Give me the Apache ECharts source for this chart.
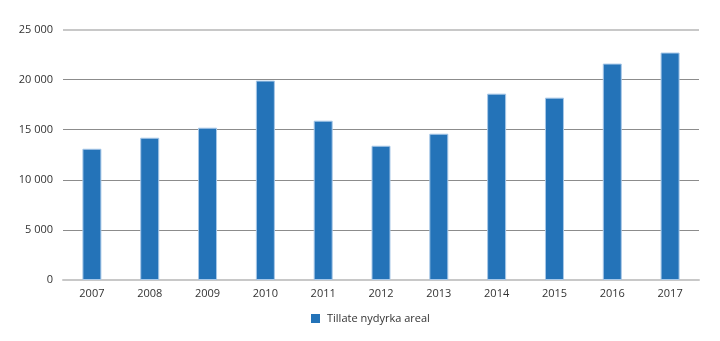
<!DOCTYPE html>
<html>
<head>
<meta charset="utf-8">
<script src="https://cdn.jsdelivr.net/npm/echarts@6/dist/echarts.min.js"></script>
<style>
  html, body { margin: 0; padding: 0; background: #fff; }
  #chart { width: 720px; height: 341px; }
</style>
</head>
<body>
<div id="chart"></div>
<script>
// Years on the category axis
const years = ['2007', '2008', '2009', '2010', '2011', '2012', '2013', '2014', '2015', '2016', '2017'];
// Approved new cultivated area per year
const area = [13100, 14200, 15200, 19900, 15900, 13400, 14600, 18600, 18200, 21600, 22700];
const seriesName = 'Tillate nydyrka areal';
// Value axis ticks
const yTicks = [0, 5000, 10000, 15000, 20000, 25000];

const fmt = v => String(v).replace(/\B(?=(\d{3})+(?!\d))/g, ' ');

const chart = echarts.init(document.getElementById('chart'), null, { renderer: 'canvas' });
chart.setOption({
  animation: false,
  textStyle: { fontFamily: 'Open Sans', color: '#333' },
  grid: { left: 63, right: 21, top: 29.5, bottom: 61, containLabel: false },
  legend: {
    data: [seriesName],
    bottom: 12,
    left: 306,
    itemWidth: 9,
    itemHeight: 9,
    itemGap: 6,
    icon: 'rect',
    itemStyle: { borderWidth: 0 },
    textStyle: { fontFamily: 'Open Sans', fontSize: 11, color: '#333', padding: [0, 0, 0, 2] }
  },
  xAxis: {
    type: 'category',
    data: years,
    axisLine: { lineStyle: { color: '#c8c8c8', width: 2 } },
    axisTick: { show: false },
    axisLabel: { fontSize: 11, color: '#333', margin: 8 }
  },
  yAxis: {
    type: 'value',
    min: yTicks[0],
    max: yTicks[yTicks.length - 1],
    interval: yTicks[1] - yTicks[0],
    axisLine: { show: false },
    axisTick: { show: false },
    axisLabel: { fontSize: 11, color: '#333', margin: 10, formatter: fmt },
    splitLine: {
      lineStyle: {
        color: ['#c8c8c8', '#8c8c8c', '#8c8c8c', '#8c8c8c', '#8c8c8c', '#c8c8c8'],
        width: 1
      }
    }
  },
  series: [{
    name: seriesName,
    type: 'bar',
    data: area,
    barWidth: 19,
    itemStyle: { color: '#2473b8', borderColor: '#a8c8e8', borderWidth: 1 },
    markLine: {
      silent: true,
      symbol: 'none',
      label: { show: false },
      lineStyle: { color: '#c8c8c8', width: 2, type: 'solid' },
      data: [{ yAxis: yTicks[yTicks.length - 1] }]
    }
  }]
});
</script>
</body>
</html>
